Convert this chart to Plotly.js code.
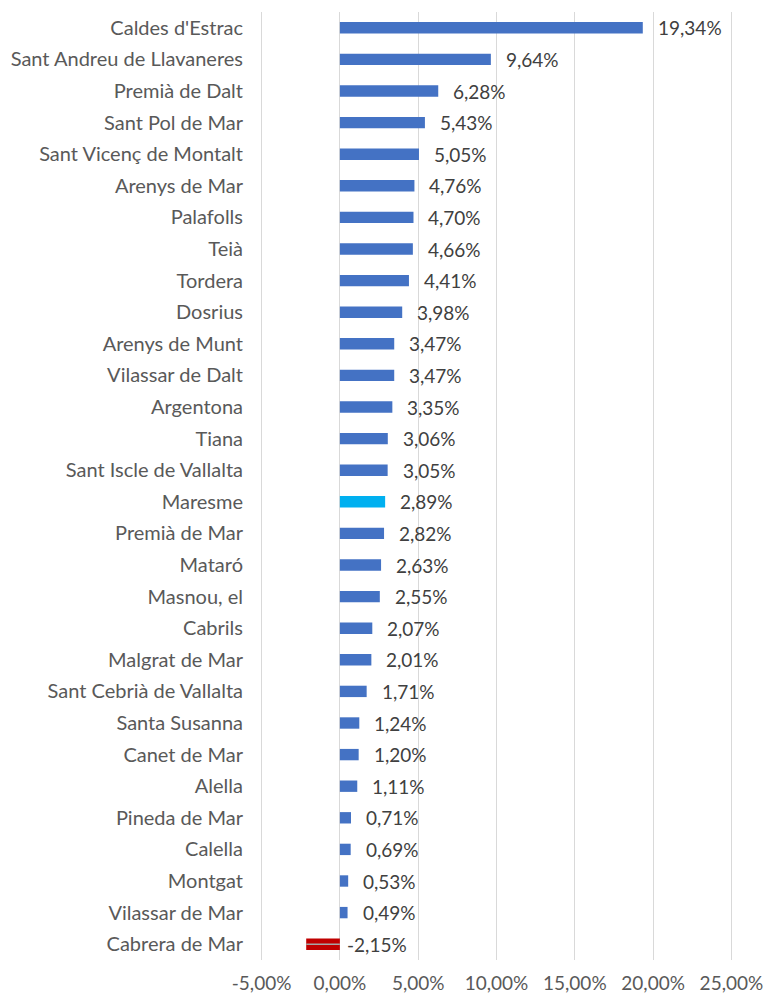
<!DOCTYPE html>
<html>
<head>
<meta charset="utf-8">
<script src="https://cdn.plot.ly/plotly-3.0.1.min.js"></script>
<style>html,body{margin:0;padding:0;background:#fff;}#chart{width:764px;height:996px;}</style>
</head>
<body>
<div id="chart"></div>
<script>
const categories = ["Caldes d'Estrac","Sant Andreu de Llavaneres","Premià de Dalt","Sant Pol de Mar","Sant Vicenç de Montalt","Arenys de Mar","Palafolls","Teià","Tordera","Dosrius","Arenys de Munt","Vilassar de Dalt","Argentona","Tiana","Sant Iscle de Vallalta","Maresme","Premià de Mar","Mataró","Masnou, el","Cabrils","Malgrat de Mar","Sant Cebrià de Vallalta","Santa Susanna","Canet de Mar","Alella","Pineda de Mar","Calella","Montgat","Vilassar de Mar","Cabrera de Mar"];
const values = [19.34,9.64,6.28,5.43,5.05,4.76,4.70,4.66,4.41,3.98,3.47,3.47,3.35,3.06,3.05,2.89,2.82,2.63,2.55,2.07,2.01,1.71,1.24,1.20,1.11,0.71,0.69,0.53,0.49,-2.15];
const highlight = "Maresme";
const tickValues = [-5,0,5,10,15,20,25];

const colors = categories.map((c,i)=> c===highlight ? '#00B0F0' : (values[i]<0 ? '#C00000' : '#4472C4'));
const fmt = v => v.toFixed(2).replace('.',',') + '%';
const FONT = 'Lato, Open Sans, sans-serif';

const traces = [{
  type:'bar', orientation:'h', y:categories, x:values,
  marker:{color:colors}, width:0.36, hoverinfo:'skip'
}];
categories.forEach((c,i)=>{
  if(values[i]<0){
    traces.push({type:'scatter',mode:'lines',x:[0,values[i]],y:[c,c],line:{color:'#a6a6a6',width:1.5},hoverinfo:'skip'});
  }
});

const annotations = categories.map((c,i)=>({
  x: Math.max(values[i],0), y:c, xref:'x', yref:'y', text:fmt(values[i]),
  showarrow:false, xanchor:'left', yanchor:'middle', xshift: values[i]<0 ? 5 : 13,
  font:{family:FONT, size:19, color:'#404040'}
}));

const layout = {
  width:764, height:996, showlegend:false, separators:',.',
  margin:{l:260,r:31,t:12,b:36},
  paper_bgcolor:'#fff', plot_bgcolor:'#fff',
  font:{family:FONT, size:19, color:'#595959'},
  xaxis:{range:[-5.1,25.1], tickvals:tickValues, ticktext:tickValues.map(v=>v.toFixed(2).replace('.',',')+'%'),
    showgrid:true, gridcolor:'#d9d9d9', gridwidth:1, zeroline:true, zerolinecolor:'#d9d9d9', zerolinewidth:1,
    showline:false, ticks:'', ticklabelstandoff:10, tickfont:{size:19,color:'#595959'}},
  yaxis:{range:[categories.length-0.5,-0.5], type:'category', showgrid:false, zeroline:false, showline:false, ticks:'',
    ticklabelstandoff:16, tickfont:{size:20,color:'#595959'}},
  annotations: annotations
};
Plotly.newPlot('chart', traces, layout, {staticPlot:true, displayModeBar:false});
</script>
</body>
</html>
